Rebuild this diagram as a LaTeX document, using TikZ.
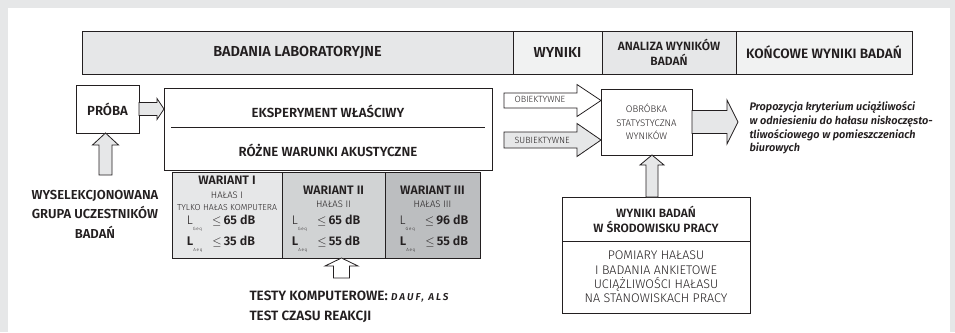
\documentclass[tikz,border=0pt]{standalone}
\usepackage{fontspec}
\setmainfont{Fira Sans}[BoldFont={Fira Sans SemiBold},BoldItalicFont={Fira Sans SemiBold Italic}]
\newfontfamily\lightfont{Fira Sans Light}
\usetikzlibrary{positioning,calc}
\definecolor{framegray}{HTML}{E6E7E8}
\definecolor{palegray}{HTML}{F1F2F2}
\definecolor{midgray}{HTML}{D1D3D4}
\definecolor{deepgray}{HTML}{BCBEC0}
\definecolor{inkgray}{HTML}{231F20}
% fat arrow: from, to, shaft half width, head half width, head length, fill
\newcommand\blockarrow[6]{%
  \path (#1) coordinate (ba-s) (#2) coordinate (ba-t)
    ($(ba-t)!#5!(ba-s)$) coordinate (ba-h);
  \draw[inkgray,line width=0.8pt,line join=miter,fill=#6]
    ($(ba-s)!#3!90:(ba-t)$) -- ($(ba-h)!#3!-90:(ba-s)$)
    -- ($(ba-h)!#4!-90:(ba-s)$) -- (ba-t) -- ($(ba-h)!#4!90:(ba-s)$)
    -- ($(ba-h)!#3!90:(ba-s)$) -- ($(ba-s)!#3!-90:(ba-t)$) -- cycle;}
\newcommand\levelsym[2]{#1\raisebox{-6pt}{\lightfont\fontsize{4.5}{4.5}\selectfont #2}}
\begin{document}
\begin{tikzpicture}[x=1pt,y=-1pt,text=inkgray,
  box/.style={draw=inkgray,line width=0.8pt,rectangle,inner sep=0pt,outer sep=0pt},
  headcell/.style={box,line width=1pt,fill=framegray,minimum height=43pt,align=center,
    font=\bfseries\fontsize{14.5}{15}\selectfont},
  bigtext/.style={font=\bfseries\fontsize{13.2}{14}\selectfont,align=center},
  vartitle/.style={font=\bfseries\fontsize{12.3}{13}\selectfont},
  noisetext/.style={font=\lightfont\fontsize{9.5}{10}\selectfont},
  smalltext/.style={font=\lightfont\fontsize{9}{10}\selectfont,align=center},
  level/.style={font=\lightfont\fontsize{12.5}{13}\selectfont}]
\fill[framegray] (0,0) rectangle (955,332);
\fill[white] (8,8) rectangle (950,332);
\useasboundingbox (0,0) rectangle (955,332);
% header
\node[headcell,minimum width=431pt] (lab) at (297.5,52.5) {BADANIA LABORATORYJNE};
\node[headcell,fill=palegray,minimum width=89pt,right=0pt of lab] (wyn) {WYNIKI};
\node[headcell,minimum width=134pt,right=0pt of wyn,font=\bfseries\fontsize{12}{15}\selectfont] (ana) {ANALIZA WYNIKÓW\\BADAŃ};
\node[headcell,fill=palegray,minimum width=176pt,right=0pt of ana,font=\bfseries\fontsize{13.6}{15}\selectfont] (kon) {KOŃCOWE WYNIKI BADAŃ};
% laboratory part
\node[box,bigtext,minimum width=63pt,minimum height=48pt] (proba) at (107.5,109) {PRÓBA};
\node[box,minimum width=328pt,minimum height=82pt] (eksp) at (328,129) {};
\draw[inkgray,line width=0.8pt] ($(eksp.west)+(7,-2)$) -- ($(eksp.east)+(-7,-2)$);
\node[bigtext] (eksptext) at (328,111) {EKSPERYMENT WŁAŚCIWY};
\node[bigtext] (warunki) at (328,150) {RÓŻNE WARUNKI AKUSTYCZNE};
\blockarrow{proba.east}{proba.east -| eksp.west}{6.5pt}{10.5pt}{7pt}{framegray}
\coordinate (grupatop) at (105.5,175);
\blockarrow{grupatop}{grupatop |- proba.south}{6.5pt}{13pt}{12pt}{framegray}
\node[bigtext,font=\bfseries\fontsize{13}{19.5}\selectfont] (grupa) at (95,214)
  {WYSELEKCJONOWANA\\GRUPA UCZESTNIKÓW\\BADAŃ};
% variants
\node[box,fill=framegray,minimum width=110pt,minimum height=86pt] (var1) at (227,215) {};
\node[box,fill=midgray,minimum width=103pt,minimum height=86pt,right=0pt of var1] (var2) {};
\node[box,fill=deepgray,minimum width=95pt,minimum height=86pt,right=0pt of var2] (var3) {};
\node[vartitle] (var1title) at (227,180) {WARIANT I};
\node[noisetext] (var1noise) at (227,195) {HAŁAS I};
\node[smalltext,font=\lightfont\fontsize{8.7}{9}\selectfont] (var1note) at (227,208) {TYLKO HAŁAS KOMPUTERA};
\node[vartitle] (var2title) at (333.5,190) {WARIANT II};
\node[noisetext] (var2noise) at (333.5,204) {HAŁAS II};
\node[vartitle] (var3title) at (432.5,190) {WARIANT III};
\node[noisetext] (var3noise) at (432.5,204) {HAŁAS III};
\node[level] (var1geq) at (221,223) {\levelsym{L}{G\,e\,q}\hspace{10pt}$\leq$\,\textbf{65 dB}};
\node[level] (var1aeq) at (221,244) {\levelsym{\textbf{L}}{A\,e\,q}\hspace{10pt}$\leq$\,\textbf{35 dB}};
\node[level] (var2geq) at (326,223) {\levelsym{L}{G\,e\,q}\hspace{10pt}$\leq$\,\textbf{65 dB}};
\node[level] (var2aeq) at (326,244) {\levelsym{\textbf{L}}{A\,e\,q}\hspace{10pt}$\leq$\,\textbf{55 dB}};
\node[level] (var3geq) at (434,223) {\levelsym{L}{G\,e\,q}\hspace{10pt}$\leq$\,\textbf{96 dB}};
\node[level] (var3aeq) at (434,244) {\levelsym{\textbf{L}}{A\,e\,q}\hspace{10pt}$\leq$\,\textbf{55 dB}};
\coordinate (testytop) at (341.5,278);
\blockarrow{testytop}{testytop |- var2.south}{8pt}{16.5pt}{8pt}{white}
\node[anchor=west,align=left,font=\bfseries\fontsize{13.5}{20}\selectfont] (testy) at (246,307)
  {TESTY KOMPUTEROWE: {\itshape\fontsize{10}{10}\selectfont\addfontfeature{LetterSpace=20}DAUF, ALS}\\TEST CZASU REAKCJI};
% analysis part
\node[box,smalltext,font=\lightfont\fontsize{9.6}{13.5}\selectfont,minimum width=91pt,minimum height=66pt] (obrobka) at (646.5,122)
  {OBRÓBKA\\STATYSTYCZNA\\WYNIKÓW};
\coordinate (obj) at (504,100.5);
\coordinate (subj) at (504,140);
\blockarrow{obj}{obj -| obrobka.west}{7.5pt}{16pt}{24pt}{white}
\blockarrow{subj}{subj -| obrobka.west}{8pt}{16.5pt}{24pt}{framegray}
\node[smalltext,anchor=west] (objtext) at (511,99.5) {OBIEKTYWNE};
\node[smalltext,anchor=west] (subjtext) at (511,140) {SUBIEKTYWNE};
\coordinate (wyniktip) at (738,122);
\blockarrow{obrobka.east}{wyniktip}{11.5pt}{22pt}{11pt}{framegray}
\node[anchor=west,align=left,font=\bfseries\itshape\fontsize{10.9}{13.7}\selectfont] (propozycja) at (746,128)
  {Propozycja kryterium uciążliwości\\w odniesieniu do hałasu niskoczęsto-\\tliwościowego w pomieszczeniach\\biurowych};
\node[box,minimum width=188pt,minimum height=44pt,align=center,font=\bfseries\fontsize{12}{15}\selectfont] (srodowisko) at (656,219)
  {WYNIKI BADAŃ\\W ŚRODOWISKU PRACY};
\node[box,minimum width=188pt,minimum height=72pt,below=0pt of srodowisko,align=center,font=\lightfont\fontsize{12.5}{14.3}\selectfont] (pomiary)
  {POMIARY HAŁASU\\I BADANIA ANKIETOWE\\UCIĄŻLIWOŚCI HAŁASU\\NA STANOWISKACH PRACY};
\coordinate (upline) at (652,0);
\blockarrow{upline |- srodowisko.north}{upline |- obrobka.south}{6pt}{12pt}{10pt}{framegray}
\end{tikzpicture}
\end{document}
